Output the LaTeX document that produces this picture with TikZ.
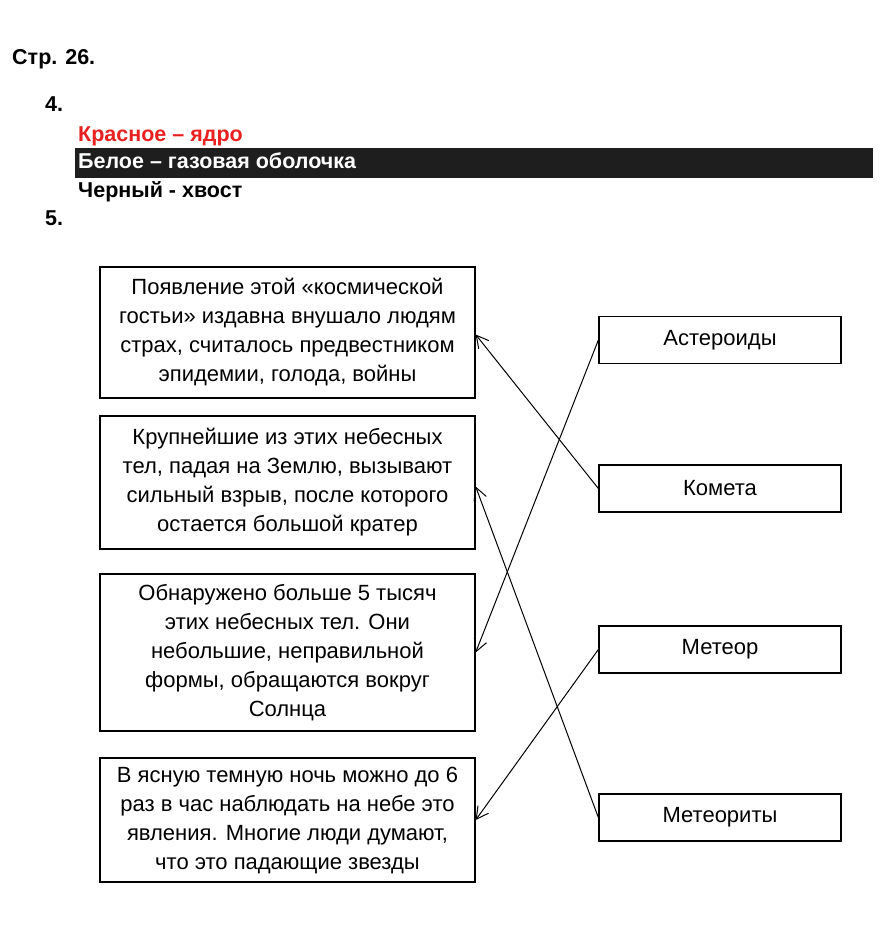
\documentclass[tikz,border=0pt]{standalone}
\usepackage{fontspec}
\setmainfont{Liberation Sans}
\usepackage{xcolor}
\usetikzlibrary{arrows.meta,positioning}

\definecolor{hdred}{RGB}{232,32,32}
\definecolor{barblack}{RGB}{30,30,30}

\begin{document}
\begin{tikzpicture}[x=1pt,y=-1pt,
		descbox/.style={draw,line width=1.3pt,minimum width=375pt,align=center,
			inner sep=0pt,font=\fontsize{22}{29}\selectfont},
		termbox/.style={draw,line width=1.3pt,minimum width=242pt,minimum height=47pt,
			inner sep=0pt,font=\fontsize{22}{24}\selectfont},
		headtext/.style={anchor=base west,inner sep=0pt,font=\fontsize{21.5}{23}\selectfont\bfseries},
		link/.style={line width=1pt,-{Straight Barb[length=12pt,width=13pt,line width=1pt]}}]
		
		\useasboundingbox (0,0) rectangle (887,935);
		
		% header
		\node[headtext] (page) at (12,64) {Стр. 26.};
		\node[headtext] (q4) at (45,111) {4.};
		\node[headtext,text=hdred] (red) at (78,141) {Красное – ядро};
		\fill[barblack] (75,148) rectangle (873,178);
		\node[headtext,text=white] (white) at (78,168) {Белое – газовая оболочка};
		\node[headtext] (black) at (78,197) {Черный - хвост};
		\node[headtext] (q5) at (45,225) {5.};
		
		% descriptions
		\node[descbox,minimum height=131pt] (D1) at (287.5,332.5)
		{Появление этой «космической\\гостьи» издавна внушало людям\\страх, считалось предвестником\\эпидемии, голода, войны};
		
		\node[descbox,minimum height=133pt] (D2) at (287.5,482.5)
		{Крупнейшие из этих небесных\\тел, падая на Землю, вызывают\\сильный взрыв, после которого\\остается большой кратер};
		
		\node[descbox,minimum height=157pt] (D3) at (287.5,652.5)
		{Обнаружено больше 5 тысяч\\этих небесных тел. Они\\небольшие, неправильной\\формы, обращаются вокруг\\Солнца};
		
		\node[descbox,minimum height=124pt] (D4) at (287.5,820)
		{В ясную темную ночь можно до 6\\раз в час наблюдать на небе это\\явления. Многие люди думают,\\что это падающие звезды};
		
		% terms
		\node[termbox] (T1) at (720,340) {Астероиды};
		\node[termbox] (T2) at (720,488.5) {Комета};
		\node[termbox] (T3) at (720,649.5) {Метеор};
		\node[termbox] (T4) at (720,817.5) {Метеориты};
		
		\draw[link] (T2.west) -- ([yshift=-2pt]D1.east);
		\draw[link] (T1.west) -- (D3.east);
		\draw[link] (T3.west) -- (D4.east);
		\draw[link] (T4.west) -- ([yshift=-4pt]D2.east);
		
	\end{tikzpicture}
\end{document}
